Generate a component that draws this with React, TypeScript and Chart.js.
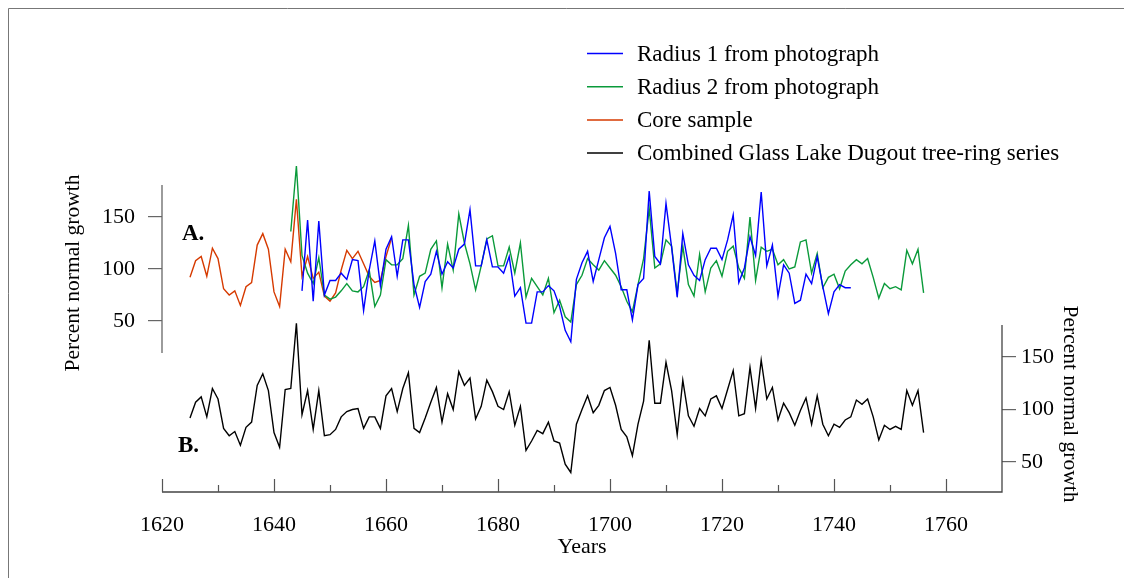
import React, { useEffect, useRef } from "react";
import { Chart, registerables } from "chart.js";

Chart.register(...registerables);

const SERIF = "'Liberation Serif', 'Times New Roman', serif";

// ---- data (percent normal growth, one value per year) ----
const radius1Start = 1645;
const radius1Values = [
  79, 147, 69, 146, 75, 89, 89, 96, 90, 109,
  108, 60, 99, 127, 84, 119, 131, 93, 128, 128,
  85, 63, 88, 95, 117, 95, 107, 101, 119, 124,
  157, 103, 103, 128, 102, 102, 96, 112, 74, 82,
  48, 48, 78, 78, 84, 79, 64, 41, 30, 90,
  106, 117, 88, 109, 130, 141, 115, 80, 80, 51,
  85, 91, 175, 112, 105, 163, 121, 73, 134, 104,
  94, 89, 109, 120, 120, 109, 128, 152, 87, 101,
  131, 113, 174, 103, 123, 74, 104, 96, 67, 70,
  95, 86, 112, 83, 57, 78, 85, 82, 82,
];

const radius2Start = 1643;
const radius2Values = [
  136, 199, 113, 96, 86, 111, 75, 71, 73, 79,
  86, 79, 78, 83, 99, 64, 75, 109, 104, 104,
  110, 142, 75, 93, 96, 119, 127, 82, 124, 99,
  153, 125, 105, 80, 103, 129, 132, 103, 103, 121,
  96, 125, 73, 91, 83, 75, 91, 58, 70, 54,
  49, 85, 94, 110, 104, 99, 108, 101, 94, 83,
  69, 59, 85, 110, 158, 101, 105, 128, 122, 77,
  122, 85, 74, 114, 78, 101, 108, 93, 117, 122,
  101, 91, 150, 89, 121, 117, 119, 104, 109, 100,
  102, 126, 128, 96, 115, 82, 92, 95, 81, 98,
  104, 109, 105, 110, 92, 72, 86, 81, 83, 80,
  118, 105, 119, 77,
];

const coreStart = 1625;
const coreValues = [
  92, 108, 112, 93, 120, 110, 81, 75, 79, 65,
  83, 87, 123, 134, 119, 78, 64, 119, 107, 167,
  93, 112, 91, 97, 74, 69, 77, 99, 118, 110,
  117, 105, 93, 87, 89, 112, 130,
];

const combinedStart = 1625;
const combinedValues = [
  92, 107, 112, 93, 120, 110, 82, 75, 79, 66,
  83, 88, 123, 134, 118, 78, 64, 119, 120, 182,
  95, 118, 81, 118, 75, 76, 81, 93, 98, 100,
  101, 82, 93, 93, 82, 113, 120, 98, 120, 135,
  82, 78, 92, 107, 121, 88, 115, 100, 136, 123,
  130, 91, 103, 128, 117, 103, 100, 117, 85, 103,
  61, 70, 80, 77, 88, 70, 68, 48, 40, 86,
  100, 113, 97, 104, 118, 121, 104, 81, 74, 56,
  86, 108, 166, 106, 106, 145, 118, 76, 128, 94,
  84, 101, 94, 110, 113, 101, 119, 137, 94, 96,
  140, 101, 147, 110, 121, 90, 106, 97, 85, 99,
  111, 86, 113, 86, 75, 86, 83, 90, 93, 109,
  105, 110, 93, 71, 85, 81, 84, 81, 118, 104,
  118, 78,
];

const seriesLabels = [
  "Radius 1 from photograph",
  "Radius 2 from photograph",
  "Core sample",
  "Combined Glass Lake Dugout tree-ring series",
];
const seriesColors = ["#0000ff", "#0a9a3a", "#d63a00", "#000000"];

const xTickLabels = [1620, 1640, 1660, 1680, 1700, 1720, 1740, 1760];
const xMinorTicks = [1630, 1650, 1670, 1690, 1710, 1730, 1750];
const yTickValues = [50, 100, 150];

function toPoints(start: number, values: number[]) {
  return values.map((v, i) => ({ x: start + i, y: v }));
}

const decor = {
  id: "decor",
  afterDraw(chart: any) {
    const ctx: CanvasRenderingContext2D = chart.ctx;
    const xs = chart.scales.x;
    const yA = chart.scales.yA;
    const yB = chart.scales.yB;
    ctx.save();

    // outer frame
    ctx.strokeStyle = "#777";
    ctx.lineWidth = 1;
    ctx.beginPath();
    ctx.moveTo(8.5, 578);
    ctx.lineTo(8.5, 8.5);
    ctx.lineTo(1124, 8.5);
    ctx.stroke();

    const left = xs.getPixelForValue(1620);
    const right = xs.getPixelForValue(1770);
    const bottom = yB.getPixelForValue(yB.min);

    // panel A axis line
    ctx.strokeStyle = "#666";
    ctx.lineWidth = 1.3;
    ctx.beginPath();
    ctx.moveTo(left, yA.getPixelForValue(yA.max));
    ctx.lineTo(left, yA.getPixelForValue(19.2));
    ctx.stroke();

    // panel B axis + x axis
    ctx.strokeStyle = "#444";
    ctx.beginPath();
    ctx.moveTo(right, yB.getPixelForValue(180.5));
    ctx.lineTo(right, bottom);
    ctx.lineTo(left, bottom);
    ctx.stroke();

    // x tick marks pointing up
    ctx.strokeStyle = "#555";
    ctx.lineWidth = 1.2;
    const drawTick = (v: number, len: number) => {
      const px = Math.round(xs.getPixelForValue(v)) + 0.5;
      ctx.beginPath();
      ctx.moveTo(px, bottom);
      ctx.lineTo(px, bottom - len);
      ctx.stroke();
    };
    xTickLabels.forEach((v) => drawTick(v, 13));
    xMinorTicks.forEach((v) => drawTick(v, 7));

    // panel letters
    ctx.fillStyle = "#000";
    ctx.textBaseline = "alphabetic";
    ctx.textAlign = "left";
    ctx.font = `bold 23px ${SERIF}`;
    ctx.fillText("A.", 182, 240);
    ctx.fillText("B.", 178, 452);

    // axis titles
    ctx.font = `21.5px ${SERIF}`;
    ctx.textAlign = "center";
    ctx.textBaseline = "middle";
    ctx.save();
    ctx.translate(73, 273);
    ctx.rotate(-Math.PI / 2);
    ctx.fillText("Percent normal growth", 0, 0);
    ctx.restore();
    ctx.save();
    ctx.translate(1070, 404);
    ctx.rotate(Math.PI / 2);
    ctx.fillText("Percent normal growth", 0, 0);
    ctx.restore();

    // legend
    ctx.font = `23px ${SERIF}`;
    ctx.textAlign = "left";
    chart.data.datasets.forEach((ds: any, i: number) => {
      const y = 53.5 + 33.2 * i;
      ctx.strokeStyle = ds.borderColor;
      ctx.lineWidth = 1.5;
      ctx.beginPath();
      ctx.moveTo(587, y);
      ctx.lineTo(623, y);
      ctx.stroke();
      ctx.fillStyle = "#000";
      ctx.fillText(ds.label, 637, y + 1);
    });

    ctx.restore();
  },
};

export default function App() {
  const canvasRef = useRef<HTMLCanvasElement | null>(null);

  useEffect(() => {
    if (!canvasRef.current) return;
    Chart.defaults.font.family = SERIF;
    const common = {
      pointRadius: 0,
      borderWidth: 1.4,
      tension: 0,
      fill: false,
      clip: false as any,
    };
    const chart = new Chart(canvasRef.current, {
      type: "line",
      data: {
        datasets: [
          { label: seriesLabels[0], data: toPoints(radius1Start, radius1Values), yAxisID: "yA", borderColor: seriesColors[0], ...common },
          { label: seriesLabels[1], data: toPoints(radius2Start, radius2Values), yAxisID: "yA", borderColor: seriesColors[1], ...common },
          { label: seriesLabels[2], data: toPoints(coreStart, coreValues), yAxisID: "yA", borderColor: seriesColors[2], ...common },
          { label: seriesLabels[3], data: toPoints(combinedStart, combinedValues), yAxisID: "yB", borderColor: seriesColors[3], ...common },
        ],
      },
      options: {
        responsive: false,
        animation: false,
        devicePixelRatio: 1,
        layout: { padding: { top: 185, left: 0, right: 0, bottom: 0 } },
        plugins: { legend: { display: false }, tooltip: { enabled: false } },
        scales: {
          x: {
            type: "linear",
            position: "bottom",
            min: 1620,
            max: 1770,
            afterBuildTicks: (s: any) => {
              s.ticks = xTickLabels.map((v) => ({ value: v }));
            },
            afterFit: (s: any) => {
              s.height = 86;
            },
            grid: { display: false },
            border: { display: false },
            ticks: {
              padding: 12,
              color: "#000",
              font: { size: 22 },
              maxRotation: 0,
              autoSkip: false,
              callback: (v: any) => String(v),
            },
            title: {
              display: true,
              text: "Years",
              color: "#000",
              font: { size: 22 },
              padding: { top: 0, bottom: 18 },
            },
          },
          yA: {
            type: "linear",
            position: "left",
            min: -114.42,
            max: 180.77,
            afterBuildTicks: (s: any) => {
              s.ticks = yTickValues.map((v) => ({ value: v }));
            },
            afterFit: (s: any) => {
              s.width = 162;
            },
            grid: { drawOnChartArea: false, drawTicks: true, tickLength: 14, color: "#666", lineWidth: 1.2 },
            border: { display: false },
            ticks: { padding: 13, color: "#000", font: { size: 22 }, callback: (v: any) => String(v) },
          },
          yB: {
            type: "linear",
            position: "right",
            min: 21.43,
            max: 313.81,
            afterBuildTicks: (s: any) => {
              s.ticks = yTickValues.map((v) => ({ value: v }));
            },
            afterFit: (s: any) => {
              s.width = 122;
            },
            grid: { drawOnChartArea: false, drawTicks: true, tickLength: 14, color: "#666", lineWidth: 1.2 },
            border: { display: false },
            ticks: { padding: 5, color: "#000", font: { size: 22 }, callback: (v: any) => String(v) },
          },
        },
      } as any,
      plugins: [decor],
    });
    return () => chart.destroy();
  }, []);

  return (
    <div style={{ position: "fixed", left: 0, top: 0, width: 1124, height: 578, background: "#fff" }}>
      <canvas ref={canvasRef} width={1124} height={578} style={{ display: "block", width: 1124, height: 578 }} />
    </div>
  );
}
